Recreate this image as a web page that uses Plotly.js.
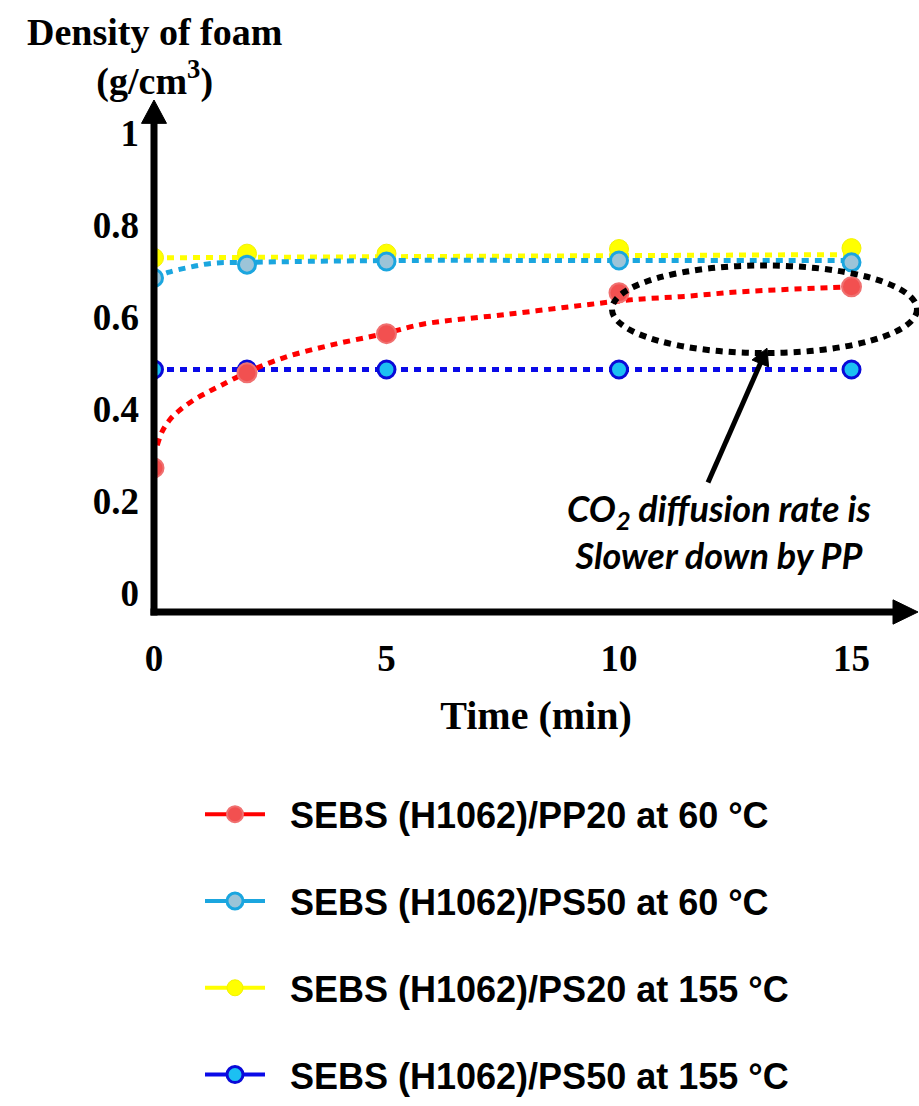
<!DOCTYPE html>
<html><head><meta charset="utf-8">
<script src="https://cdn.plot.ly/plotly-3.0.1.min.js"></script>
<style>html,body{margin:0;padding:0;background:#fff}</style>
</head><body><div id="chart" style="width:919px;height:1106px"></div>
<script>
// ---- data ----
const seriesNames = [
  'SEBS (H1062)/PP20 at 60 °C',
  'SEBS (H1062)/PS50 at 60 °C',
  'SEBS (H1062)/PS20 at 155 °C',
  'SEBS (H1062)/PS50 at 155 °C'
];
const times = [0, 2, 5, 10, 15];                       // min
const pp20At60  = [0.271, 0.478, 0.563, 0.652, 0.665]; // g/cm3
const ps50At60  = [0.684, 0.713, 0.720, 0.722, 0.718];
const ps20At155 = [0.728, 0.737, 0.737, 0.747, 0.749];
const ps50At155 = [0.485, 0.485, 0.485, 0.485, 0.485];

// dotted trend curves
const pp20TrendT = [0.07, 0.18, 0.35, 0.57, 0.86, 1.16, 1.45, 1.98, 2.77, 3.8, 4.95, 5.8, 7.6, 9.4, 10.3, 11.4, 12.6, 14.5, 15.0];
const pp20TrendV = [0.320, 0.351, 0.377, 0.398, 0.419, 0.436, 0.451, 0.478, 0.510, 0.538, 0.563, 0.584, 0.605, 0.627, 0.637, 0.644, 0.654, 0.663, 0.665];
const ps50At60TrendT = [0, 0.3, 0.74, 1.25, 2, 5, 10, 15];
const ps50At60TrendV = [0.684, 0.696, 0.707, 0.716, 0.718, 0.722, 0.722, 0.722];
const ps20At155TrendT = [0, 15];
const ps20At155TrendV = [0.728, 0.735];
const ps50At155TrendT = [0, 15];
const ps50At155TrendV = [0.485, 0.485];

const xTicks = [0, 5, 10, 15];
const yTicks = [0, 0.2, 0.4, 0.6, 0.8, 1];
const yTickText = ['0', '0.2', '0.4', '0.6', '0.8', '1'];

// ---- styling ----
const serif = '"Liberation Serif", "Times New Roman", serif';
const sans = '"Liberation Sans", Arial, sans-serif';
const dotted = '7px,6px';

// isolate each point so the legend shows a line+marker but no line is drawn between points
function isolated(xs, ys) {
  const X = [], Y = [];
  xs.forEach((x, i) => { if (i) { X.push(null); Y.push(null); } X.push(x); Y.push(ys[i]); });
  return {x: X, y: Y};
}

function trend(t, v, color, spline) {
  return {x: t, y: v, mode: 'lines', showlegend: false, hoverinfo: 'skip',
    line: {color: color, width: 5, dash: dotted, shape: spline ? 'spline' : 'linear', smoothing: 1}};
}
function points(ys, name, rank, lineColor, fill, edge, edgeW, size) {
  const p = isolated(times, ys);
  return {x: p.x, y: p.y, name: '\u00a0\u00a0' + name, mode: 'lines+markers', connectgaps: false,
    legendgroup: 'g' + rank, legendrank: rank,
    line: {color: lineColor, width: 4},
    marker: {color: fill, size: size, line: {color: edge, width: edgeW}}};
}

const traces = [
  trend(ps20At155TrendT, ps20At155TrendV, '#ffff00', false),
  points(ps20At155, seriesNames[2], 3, '#ffff00', '#ffff00', '#f2f200', 1, 19),
  trend(ps50At60TrendT, ps50At60TrendV, '#1ba6df', true),
  points(ps50At60, seriesNames[1], 2, '#1ba6df', '#9cc4d8', '#1ba6df', 3, 17),
  trend(ps50At155TrendT, ps50At155TrendV, '#0a0ae8', false),
  points(ps50At155, seriesNames[3], 4, '#0a0ae8', '#1cc0f2', '#0a0ad8', 3, 17),
  trend(pp20TrendT, pp20TrendV, '#ff0000', true),
  points(pp20At60, seriesNames[0], 1, '#ff0000', '#f25050', '#f07070', 2, 19)
];

const L = 154, T = 100, R = 918, B = 626;
const W = R - L, H = B - T;
const px = v => (v - L) / W;
const py = v => (B - v) / H;
const pt = (x, y) => px(x).toFixed(5) + ',' + py(y).toFixed(5);
const tri = (a, b, c) => 'M' + pt(a[0], a[1]) + ' L' + pt(b[0], b[1]) + ' L' + pt(c[0], c[1]) + ' Z';

// callout arrow geometry (pixels)
const cTail = [708, 493], cTip = [767, 355];
const cLen = Math.hypot(cTip[0] - cTail[0], cTip[1] - cTail[1]);
const cu = [(cTip[0] - cTail[0]) / cLen, (cTip[1] - cTail[1]) / cLen];
const cBase = [cTip[0] - 17 * cu[0], cTip[1] - 17 * cu[1]];
const cn = [-cu[1], cu[0]];

const layout = {
  width: 919, height: 1106,
  margin: {l: L, r: 919 - R, t: T, b: 1106 - B, pad: 0},
  paper_bgcolor: '#fff', plot_bgcolor: '#fff',
  showlegend: true,
  xaxis: {
    range: [0, 16.43], tickvals: xTicks, ticktext: xTicks.map(String),
    showgrid: false, zeroline: false, showline: false, ticks: '',
    ticklabelstandoff: 21, automargin: false,
    tickfont: {family: serif, size: 37, weight: 'bold', color: '#000'},
    title: {text: 'Time (min)', standoff: 22,
      font: {family: serif, size: 40, weight: 'bold', color: '#000'}}
  },
  yaxis: {
    range: [-0.0423, 1.0711], tickvals: yTicks, ticktext: yTickText,
    showgrid: false, zeroline: false, showline: false, ticks: '',
    ticklabelstandoff: 14, automargin: false,
    tickfont: {family: serif, size: 37, weight: 'bold', color: '#000'}
  },
  legend: {
    x: px(200), xanchor: 'left', y: py(803), yanchor: 'top',
    traceorder: 'grouped', tracegroupgap: 37, itemwidth: 60,
    bgcolor: 'rgba(0,0,0,0)', borderwidth: 0,
    font: {family: sans, size: 36, weight: 'bold', color: '#000'}
  },
  shapes: [
    // axes with arrowheads
    {type: 'line', xref: 'paper', yref: 'paper', x0: px(150.5), x1: px(898), y0: py(626), y1: py(626),
      line: {color: '#000', width: 7}},
    {type: 'path', xref: 'paper', yref: 'paper', path: tri([918, 626], [893, 613.5], [893, 638.5]),
      fillcolor: '#000', line: {color: '#000', width: 1}},
    {type: 'line', xref: 'paper', yref: 'paper', x0: px(154), x1: px(154), y0: py(629.5), y1: py(120),
      line: {color: '#000', width: 7}},
    {type: 'path', xref: 'paper', yref: 'paper', path: tri([154, 100], [141.5, 124], [166.5, 124]),
      fillcolor: '#000', line: {color: '#000', width: 1}},
    // dotted ellipse
    {type: 'circle', xref: 'paper', yref: 'paper',
      x0: px(612), x1: px(917), y0: py(360), y1: py(270),
      line: {color: '#000', width: 6, dash: dotted}},
    // callout arrow
    {type: 'line', xref: 'paper', yref: 'paper', x0: px(cTail[0]), y0: py(cTail[1]),
      x1: px(cBase[0] + 2 * cu[0]), y1: py(cBase[1] + 2 * cu[1]), line: {color: '#000', width: 5}},
    {type: 'path', xref: 'paper', yref: 'paper',
      path: tri(cTip, [cBase[0] + 9 * cn[0], cBase[1] + 9 * cn[1]], [cBase[0] - 9 * cn[0], cBase[1] - 9 * cn[1]]),
      fillcolor: '#000', line: {color: '#000', width: 1}}
  ],
  annotations: [
    // y axis title
    {xref: 'paper', yref: 'paper', x: px(154), y: py(6), xanchor: 'center', yanchor: 'top',
      showarrow: false, text: 'Density of foam<br>(g/cm<sup>3</sup>)',
      font: {family: serif, size: 38, weight: 'bold', color: '#000'}},
    {xref: 'paper', yref: 'paper', x: px(719), y: py(543), xanchor: 'center', yanchor: 'middle',
      showarrow: false, text: 'CO<sub>2</sub> diffusion rate is<br>Slower down by PP',
      font: {family: 'Lato, "Open Sans", sans-serif', size: 36, weight: 'bold', style: 'italic', color: '#000'}}
  ]
};

Plotly.newPlot('chart', traces, layout, {staticPlot: true, displayModeBar: false});
</script>
</body></html>
